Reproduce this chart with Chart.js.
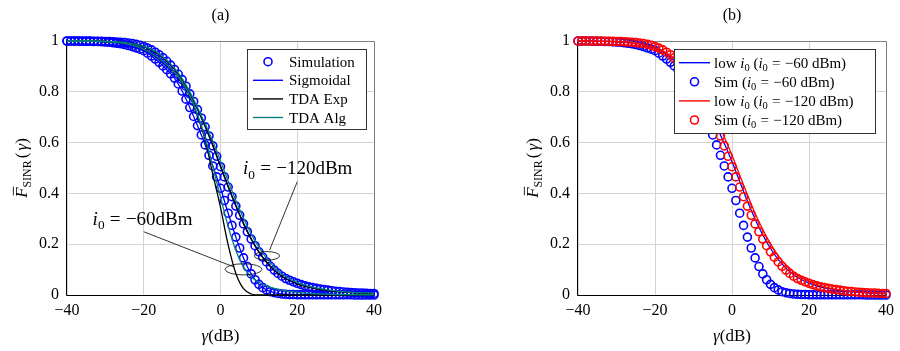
<!DOCTYPE html>
<html><head><meta charset="utf-8">
<script src="https://cdn.jsdelivr.net/npm/chart.js@4/dist/chart.umd.min.js"></script>
<style>
html,body{margin:0;padding:0;background:#fff;}
#wrap{position:relative;width:900px;height:351px;overflow:hidden;}
.c{position:absolute;top:0;width:450px;height:351px;}
canvas{display:block;}
</style></head><body>
<div id="wrap">
<div class="c" style="left:0"><canvas id="ca" width="450" height="351"></canvas></div>
<div class="c" style="left:450px"><canvas id="cb" width="450" height="351"></canvas></div>
</div>
<script>
// ---- data ----
const gamma = [-40,-39,-38,-37,-36,-35,-34,-33,-32,-31,-30,-29,-28,-27,-26,-25,-24,-23,-22,-21,-20,-19,-18,-17,-16,-15,-14,-13,-12,-11,-10,-9,-8,-7,-6,-5,-4,-3,-2,-1,0,1,2,3,4,5,6,7,8,9,10,11,12,13,14,15,16,17,18,19,20,21,22,23,24,25,26,27,28,29,30,31,32,33,34,35,36,37,38,39,40];
const gammaLine = [-40,-38,-36,-34,-32,-30,-28,-26,-24,-22,-20,-18,-16,-14,-12,-10,-8,-6,-4,-2,0,2,4,6,8,10,12,14,16,18,20,22,24,26,28,30,32,34,36,38,40];
const xTicks = [-40,-20,0,20,40];
const yTicks = [0,0.2,0.4,0.6,0.8,1];

// Simulation, i0 = -60 dBm
const sim60 = [1.000,1.000,1.000,1.000,0.999,0.999,0.999,0.998,0.998,0.997,
  0.996,0.995,0.993,0.991,0.989,0.986,0.982,0.978,0.973,0.968,
  0.962,0.952,0.941,0.929,0.916,0.902,0.887,0.871,0.854,0.831,
  0.803,0.771,0.738,0.703,0.667,0.630,0.591,0.550,0.508,0.465,
  0.420,0.372,0.322,0.274,0.228,0.185,0.146,0.112,0.083,0.060,
  0.042,0.029,0.020,0.013,0.009,0.006,0.004,0.003,0.002,0.002,
  0.001,0.001,0.001,0.001,0.001,0.001,0.001,0.001,0.001,0.001,
  0.001,0.001,0.001,0.001,0.001,0.000,0.000,0.000,0.000,0.000,0.000];
// Simulation, i0 = -120 dBm
const sim120 = [1.000,1.000,1.000,1.000,1.000,1.000,1.000,0.999,0.999,0.999,
  0.998,0.998,0.997,0.996,0.995,0.994,0.992,0.990,0.987,0.983,
  0.978,0.972,0.965,0.956,0.946,0.934,0.920,0.905,0.888,0.869,
  0.848,0.822,0.792,0.762,0.730,0.697,0.662,0.626,0.587,0.546,
  0.505,0.465,0.425,0.387,0.350,0.314,0.280,0.249,0.220,0.194,
  0.170,0.149,0.130,0.113,0.098,0.085,0.074,0.065,0.058,0.052,
  0.046,0.041,0.036,0.032,0.029,0.026,0.023,0.021,0.019,0.017,
  0.015,0.014,0.012,0.011,0.010,0.009,0.008,0.008,0.007,0.006,0.006];

// (a) approximations on gammaLine
const sig60 = [1.000,1.000,0.999,0.999,0.998,0.996,0.993,0.989,0.982,0.973,0.962,0.941,0.916,0.887,0.854,0.803,0.738,0.667,0.591,0.508,0.420,0.322,0.228,0.146,0.083,0.042,0.020,0.009,0.004,0.002,0.001,0.001,0.001,0.001,0.001,0.001,0.001,0.001,0.000,0.000,0.000];
const sig120 = [1.000,1.000,1.000,1.000,0.999,0.998,0.997,0.995,0.992,0.987,0.978,0.965,0.946,0.920,0.888,0.848,0.792,0.730,0.662,0.587,0.505,0.425,0.350,0.280,0.220,0.170,0.130,0.098,0.074,0.058,0.046,0.036,0.029,0.023,0.019,0.015,0.012,0.010,0.008,0.007,0.006];
const exp60 = [1.000,1.000,1.000,1.000,0.999,0.998,0.996,0.993,0.988,0.980,0.968,0.952,0.930,0.905,0.875,0.835,0.782,0.705,0.610,0.475,0.345,0.197,0.085,0.025,0.004,0.000,0.000,0.000,0.000,0.000,0.000,0.000,0.000,0.000,0.000,0.000,0.000,0.000,0.000,0.000,0.000];
const exp120 = [1.000,1.000,1.000,1.000,0.999,0.998,0.997,0.995,0.992,0.987,0.978,0.965,0.946,0.921,0.889,0.850,0.795,0.733,0.665,0.590,0.508,0.428,0.352,0.282,0.221,0.170,0.129,0.097,0.073,0.056,0.043,0.034,0.027,0.021,0.017,0.014,0.011,0.009,0.008,0.006,0.005];
const alg60 = [1.000,1.000,1.000,1.000,0.999,0.998,0.996,0.993,0.988,0.980,0.968,0.952,0.931,0.906,0.877,0.838,0.785,0.710,0.620,0.505,0.385,0.270,0.175,0.110,0.072,0.050,0.036,0.026,0.019,0.014,0.010,0.007,0.005,0.004,0.003,0.002,0.002,0.001,0.001,0.001,0.001];
const alg120 = [1.000,1.000,1.000,1.000,0.999,0.998,0.997,0.995,0.992,0.987,0.979,0.967,0.949,0.924,0.893,0.853,0.800,0.738,0.675,0.605,0.528,0.448,0.372,0.302,0.240,0.188,0.145,0.110,0.083,0.064,0.050,0.039,0.031,0.025,0.020,0.016,0.013,0.011,0.009,0.008,0.007];
// (b) low-interference approximations on gammaLine
const low60 = [1.000,1.000,1.000,0.999,0.998,0.997,0.995,0.992,0.988,0.980,0.970,0.955,0.935,0.910,0.877,0.837,0.786,0.729,0.664,0.596,0.525,0.447,0.370,0.299,0.236,0.183,0.140,0.106,0.080,0.061,0.047,0.036,0.028,0.022,0.018,0.014,0.011,0.009,0.007,0.006,0.005];
const low120 = [1.000,1.000,1.000,0.999,0.999,0.998,0.996,0.993,0.989,0.983,0.974,0.961,0.943,0.920,0.891,0.853,0.805,0.752,0.690,0.622,0.550,0.472,0.395,0.322,0.258,0.202,0.155,0.118,0.090,0.069,0.053,0.041,0.032,0.025,0.020,0.016,0.013,0.010,0.008,0.007,0.006];

// ---- helpers ----
const FONT = "'Liberation Serif','Times New Roman',serif";
function pts(xs, ys){ return xs.map((x,i)=>({x:x, y:ys[i]})); }
function setFont(ctx, size, it){ ctx.font = (it?'italic ':'') + size + 'px ' + FONT; }
function richWidth(ctx, parts, size){
  let w = 0;
  for (const p of parts){ setFont(ctx, p.sub?size*0.7:size, p.it); w += ctx.measureText(p.t).width + (p.sp||0)*size; }
  return w;
}
function drawRich(ctx, parts, x, y, size, align){
  const w = richWidth(ctx, parts, size);
  let cx = align==='center' ? x - w/2 : (align==='right' ? x - w : x);
  ctx.textAlign='left'; ctx.textBaseline='alphabetic'; ctx.fillStyle='#000'; ctx.strokeStyle='#000';
  for (const p of parts){
    const s = p.sub ? size*0.7 : size;
    setFont(ctx, s, p.it);
    const pre = (p.sp||0)*size/2;
    cx += pre;
    ctx.fillText(p.t, cx, y + (p.sub ? size*0.22 : 0));
    const tw = ctx.measureText(p.t).width;
    if (p.bar){ ctx.beginPath(); ctx.lineWidth = size*0.05; ctx.moveTo(cx+size*0.15, y-size*0.8); ctx.lineTo(cx+tw+size*0.05, y-size*0.8); ctx.stroke(); }
    cx += tw + pre;
  }
}
const I0 = [{t:'i',it:1},{t:'0',sub:1}];

function lineDs(label, xs, ys, color, order){
  return {label, data: pts(xs, ys), borderColor: color, borderWidth: 1.3, pointRadius: 0, showLine: true,
          fill:false, cubicInterpolationMode:'monotone', order, clip:false};
}
function circDs(label, xs, ys, color, order){
  return {label, data: pts(xs, ys), borderColor: color, backgroundColor:'rgba(0,0,0,0)', pointBackgroundColor:'rgba(0,0,0,0)',
          pointBorderColor: color, pointBorderWidth: 1.6, pointRadius: 4, pointStyle:'circle', showLine:false, order, clip:false};
}

function makeChart(cfg){
  const decor = {
    id:'decor',
    beforeDatasetsDraw(chart){
      const ctx = chart.ctx, a = chart.chartArea;
      ctx.save();
      ctx.strokeStyle = '#808080'; ctx.lineWidth = 1;
      ctx.beginPath();
      ctx.moveTo(a.left, a.top+0.5); ctx.lineTo(a.right+0.5, a.top+0.5); ctx.lineTo(a.right+0.5, a.bottom);
      ctx.stroke();
      ctx.strokeStyle = '#000';
      ctx.beginPath(); ctx.moveTo(a.left-0.5, a.top); ctx.lineTo(a.left-0.5, a.bottom+0.5); ctx.lineTo(a.right+0.5, a.bottom+0.5); ctx.stroke();
      ctx.restore();
    },
    afterDatasetsDraw(chart){
      const ctx = chart.ctx, a = chart.chartArea, xs = chart.scales.x, ys = chart.scales.y;
      ctx.save();
      // annotations
      for (const an of (cfg.annotations||[])){
        ctx.strokeStyle='#000'; ctx.lineWidth=0.8;
        const ex = xs.getPixelForValue(an.ex), ey = ys.getPixelForValue(an.ey);
        const rx = xs.getPixelForValue(an.ex + an.erx) - ex, ry = ey - ys.getPixelForValue(an.ey + an.ery);
        ctx.beginPath(); ctx.ellipse(ex, ey, rx, ry, 0, 0, Math.PI*2); ctx.stroke();
        ctx.beginPath(); ctx.moveTo(xs.getPixelForValue(an.l1[0]), ys.getPixelForValue(an.l1[1]));
        ctx.lineTo(xs.getPixelForValue(an.l2[0]), ys.getPixelForValue(an.l2[1])); ctx.stroke();
        drawRich(ctx, an.text, xs.getPixelForValue(an.tx), ys.getPixelForValue(an.ty), 19, 'center');
      }
      // legend
      const L = cfg.legend;
      ctx.fillStyle='#fff'; ctx.fillRect(L.x, L.y, L.w, L.h);
      ctx.strokeStyle='#333'; ctx.lineWidth=1; ctx.strokeRect(L.x+0.5, L.y+0.5, L.w, L.h);
      L.rows.forEach((r, i)=>{
        const cy = L.y + L.first + i*L.step;
        if (r.kind==='line'){
          ctx.strokeStyle=r.color; ctx.lineWidth=1.4; ctx.beginPath(); ctx.moveTo(L.x+L.l0, cy); ctx.lineTo(L.x+L.l1, cy); ctx.stroke();
        } else {
          ctx.strokeStyle=r.color; ctx.lineWidth=1.6; ctx.beginPath(); ctx.arc(L.x+(L.l0+L.l1)/2, cy, 4, 0, Math.PI*2); ctx.stroke();
        }
        drawRich(ctx, r.parts, L.x+L.tx, cy+5, 15, 'left');
      });
      ctx.restore();
    },
    afterDraw(chart){
      const ctx = chart.ctx, a = chart.chartArea;
      ctx.save();
      const cx = (a.left + a.right)/2;
      drawRich(ctx, [{t:'('+cfg.title+')'}], cx, 20, 16, 'center');
      drawRich(ctx, [{t:'γ',it:1},{t:'(dB)'}], cx, 341, 17, 'center');
      ctx.translate(cfg.ylabX, (a.top+a.bottom)/2 + 0);
      ctx.rotate(-Math.PI/2);
      drawRich(ctx, [{t:'F',it:1,bar:1},{t:'SINR',sub:1},{t:'(',sp:0.25},{t:'γ',it:1},{t:')'}], 0, 0, 17, 'center');
      ctx.restore();
    }
  };
  return new Chart(document.getElementById(cfg.id), {
    type:'line',
    data:{ datasets: cfg.datasets },
    options:{
      responsive:false, animation:false, events:[],
      layout:{ padding:{ top:41, right:cfg.padRight, left:0, bottom:0 } },
      plugins:{ legend:{display:false}, tooltip:{enabled:false}, title:{display:false} },
      scales:{
        x:{ type:'linear', min:-40, max:40,
            afterBuildTicks(s){ s.ticks = xTicks.map(v=>({value:v})); },
            afterFit(s){ s.height = 56; },
            grid:{ color:'#d3d3d3', drawTicks:false, lineWidth:1 },
            border:{ display:false },
            ticks:{ padding:6, color:'#000', font:{family:FONT, size:16}, maxRotation:0,
                    callback:(v)=> v<0 ? '−'+Math.abs(v) : String(v) } },
        y:{ type:'linear', min:0, max:1,
            afterBuildTicks(s){ s.ticks = yTicks.map(v=>({value:v})); },
            afterFit(s){ s.width = cfg.areaLeft; },
            grid:{ color:'#d3d3d3', drawTicks:false, lineWidth:1 },
            border:{ display:false },
            ticks:{ padding:8, color:'#000', font:{family:FONT, size:16},
                    callback:(v)=>{ const r = Math.round(v*10)/10; return (r===0||r===1) ? String(r) : r.toFixed(1); } } }
      }
    },
    plugins:[decor]
  });
}

const BLUE='#0000ff', RED='#ff0000', BLACK='#000000', TEAL='#008080';

makeChart({
  id:'ca', areaLeft:67, padRight:76, title:'a', ylabX:27,
  datasets:[
    lineDs('TDA Alg', gammaLine, alg60, TEAL, 1),
    lineDs('TDA Alg', gammaLine, alg120, TEAL, 2),
    lineDs('TDA Exp', gammaLine, exp60, BLACK, 3),
    lineDs('TDA Exp', gammaLine, exp120, BLACK, 4),
    lineDs('Sigmoidal', gammaLine, sig60, BLUE, 5),
    lineDs('Sigmoidal', gammaLine, sig120, BLUE, 6),
    circDs('Simulation', gamma, sim60, BLUE, 7),
    circDs('Simulation', gamma, sim120, BLUE, 8)
  ],
  legend:{ x:247, y:49, w:119, h:80, first:12.7, step:18.6, l0:6, l1:36, tx:42,
    rows:[ {kind:'circ', color:BLUE, parts:[{t:'Simulation'}]},
           {kind:'line', color:BLUE, parts:[{t:'Sigmoidal'}]},
           {kind:'line', color:BLACK, parts:[{t:'TDA Exp'}]},
           {kind:'line', color:TEAL, parts:[{t:'TDA Alg'}]} ] },
  annotations:[
    { ex:12.1, ey:0.154, erx:3.3, ery:0.017, l1:[20.0,0.446], l2:[12.8,0.177], tx:20.1, ty:0.475,
      text:[...I0, {t:'=',sp:0.56}, {t:'−120dBm'}] },
    { ex:6.0, ey:0.101, erx:4.8, ery:0.022, l1:[-20.0,0.249], l2:[3.4,0.111], tx:-20.3, ty:0.275,
      text:[...I0, {t:'=',sp:0.56}, {t:'−60dBm'}] }
  ]
});

makeChart({
  id:'cb', areaLeft:128, padRight:14, title:'b', ylabX:88,
  datasets:[
    circDs('Sim (i0 = −120 dBm)', gamma, sim120, RED, 1),
    lineDs('low i0 (i0 = −120 dBm)', gammaLine, low120, RED, 2),
    circDs('Sim (i0 = −60 dBm)', gamma, sim60, BLUE, 3),
    lineDs('low i0 (i0 = −60 dBm)', gammaLine, low60, BLUE, 4)
  ],
  legend:{ x:224, y:49, w:201, h:84, first:13.7, step:19.1, l0:5, l1:36, tx:40,
    rows:[ {kind:'line', color:BLUE, parts:[{t:'low '},...I0,{t:' ('},...I0,{t:'=',sp:0.56},{t:'−60 dBm)'}]},
           {kind:'circ', color:BLUE, parts:[{t:'Sim ('},...I0,{t:'=',sp:0.56},{t:'−60 dBm)'}]},
           {kind:'line', color:RED, parts:[{t:'low '},...I0,{t:' ('},...I0,{t:'=',sp:0.56},{t:'−120 dBm)'}]},
           {kind:'circ', color:RED, parts:[{t:'Sim ('},...I0,{t:'=',sp:0.56},{t:'−120 dBm)'}]} ] }
});
</script>
</body></html>
